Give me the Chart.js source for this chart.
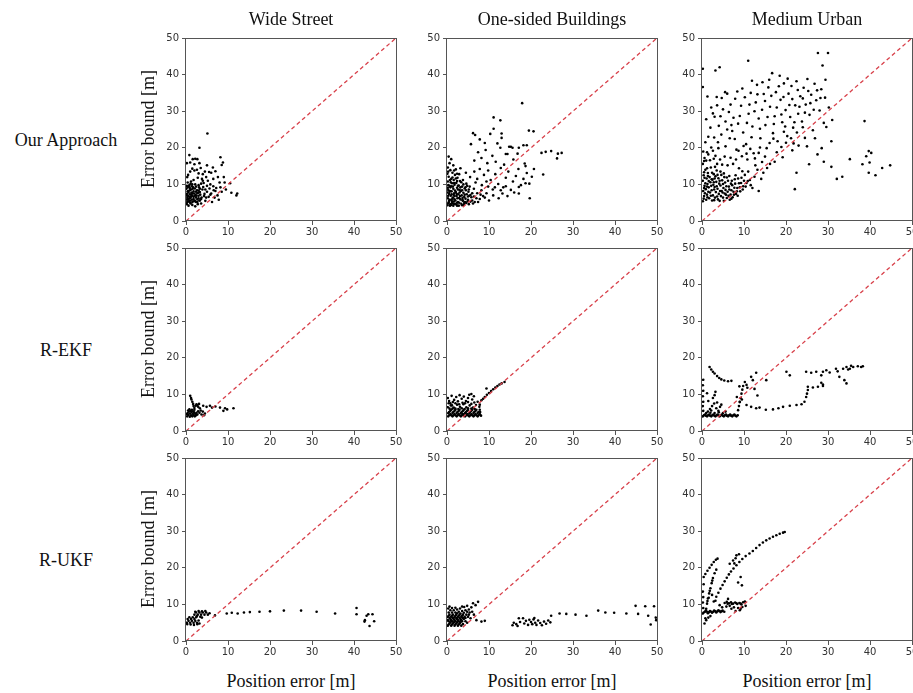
<!DOCTYPE html>
<html>
<head>
<meta charset="utf-8">
<script src="https://cdn.jsdelivr.net/npm/chart.js@4.4.1/dist/chart.umd.min.js"></script>
<style>
  html, body { margin: 0; padding: 0; background: #fff; overflow: hidden; }
  body { width: 913px; height: 693px; position: relative; }
  canvas { position: absolute; }
  .lbl { position: absolute; font-family: "Liberation Serif", "Times New Roman", serif; font-size: 18px; color: #111; white-space: nowrap; transform: translate(-50%, -50%); }
  .rot { transform: translate(-50%, -50%) rotate(-90deg); }
</style>
</head>
<body>
<script>
// column / row titles
const colTitles = ["Wide Street", "One-sided Buildings", "Medium Urban"];
const rowTitles = ["Our Approach", "R-EKF", "R-UKF"];
const xTitle = "Position error [m]";
const yTitle = "Error bound [m]";
const axisRange = [0, 50];
const tickStep = 10;

// [position error, error bound]
const wideOurs = [[0.2,15.8],[0.8,18],[1.6,16.9],[2.2,17],[2.7,16.9],[3.2,20],[5.1,23.9],[8.2,17.4],[8.8,16],[8.5,15.3],[0.5,12.6],[0.3,12],[1,13.5],[1.5,14.3],[2,13.8],[2.6,14],[3,13],[3.5,14.5],[4,12.8],[4.5,13.5],[5.5,13.4],[6,13.2],[7,13.6],[7.6,12],[6.5,11.5],[5.2,11],[4.8,12],[3.8,11.5],[2.8,11.8],[1.8,11.2],[1.2,10.8],[0.4,10.5],[0.8,9.8],[1.4,9.5],[2.2,10],[3,9.8],[3.6,10.2],[4.2,10.4],[5,9.6],[5.8,10],[6.5,9.5],[7.2,9],[8,10.5],[9,12],[10.5,10.3],[10.8,7.7],[12.2,7.5],[12,7],[8.5,8],[9.5,8.6],[7.5,7],[7.8,5.8],[6.8,6.4],[6,7.5],[5.4,6.6],[4.6,5.5],[5,8],[4.4,7.4],[3.9,8.6],[3.4,7.2],[3,6.2],[2.6,8.4],[2.4,5.2],[2,7.5],[1.8,6.6],[1.6,8.8],[1.4,5.8],[1.2,7.2],[1,6.2],[0.9,8.4],[0.7,5.4],[0.6,7.8],[0.5,6.8],[0.4,9.2],[0.3,5.8],[0.2,7.4],[0.1,8.8],[0.2,4.6],[0.6,4.2],[1.1,4.8],[1.5,4.4],[2.2,4],[2.8,4.6],[3.2,5.6],[3.6,4.8],[0.8,6.6],[1.3,7.8],[1.7,9.2],[2.1,8.9],[2.5,6.9],[2.9,7.7],[3.3,8.8],[3.7,6.4],[4.1,9.3],[1.9,5.4],[0.3,6.3],[0.7,9.5],[1.1,10.2],[1.5,6.9],[2.3,7.1],[2.7,5.9],[0.9,5.1],[0.4,8.1],[1.6,7.5],[3.1,9.2],[4.3,6.8],[5.6,8.9],[6.2,5.2],[7,8.2],[4,11],
  [0.3,5.2],[0.9,5.6],[1.5,5.2],[2.1,5.6],[2.7,5.2],[3.3,5.6],[0.6,6],[1.2,6.6],[1.8,6],[2.4,6.4],[3,6.9],[3.6,6],[0.3,6.9],[0.9,7.3],[1.5,7.6],[2.1,6.9],[2.7,7.6],[3.3,7.9],[0.6,8.2],[1.2,8.6],[1.8,8.1],[2.4,8],[3,8.3],[0.2,9.6],[0.9,9],[1.5,10],[2.4,9.4],[4.6,8.6],[4.8,6.4],[5.8,7.2],[6.6,8.4],[8.2,9.2],[9.2,10.5],[6.4,14.6],[5,15.2],[3.2,15.8],[2,15.5],[1,16]];

const oneSidedOurs = [[0.1,4.3],[0.4,5.1],[0.2,6.2],[0.5,7.4],[0.3,8.5],[0.6,9.6],[0.2,10.8],[0.4,12.1],[0.8,4.6],[1,5.8],[0.9,6.9],[1.1,8.1],[0.8,9.2],[1.2,10.3],[1,11.5],[1.3,13.2],[1.5,4.2],[1.6,5.3],[1.4,6.4],[1.7,7.6],[1.5,8.8],[1.8,9.9],[1.6,11.2],[1.9,12.6],[2.2,4.5],[2,5.6],[2.3,6.8],[2.1,7.9],[2.4,9.1],[2.2,10.4],[2.5,11.8],[2.8,4.2],[2.6,5.2],[2.9,6.3],[2.7,7.3],[3,8.5],[2.8,9.7],[3.1,10.9],[3.4,4.7],[3.2,5.9],[3.5,7],[3.3,8.2],[3.6,9.4],[3.4,10.6],[4,4.4],[3.8,5.5],[4.1,6.6],[3.9,7.7],[4.2,8.9],[4.6,4.9],[4.4,6.1],[4.7,7.3],[4.5,8.4],[4.8,9.6],[5.2,4.6],[5,5.8],[5.3,6.9],[5.1,8],[5.6,5.3],[5.8,6.5],[6.2,4.8],[6,7.6],[0.2,14.6],[0.6,15.8],[1,16.9],[0.4,17.6],[1.5,15.2],[2.1,14.1],[0.3,13.5],[0.7,4.2],[1.2,4.9],[1.9,4.7],[0.1,7.8],[0.7,8.2],[1.3,6.1],[0.5,5.5],[1.8,6.8],[2.4,5],[0.2,9.1],[0.9,10.6],[1.4,9.4],[2.6,8.6],[3.7,6.3],[4.3,5.2],[2.9,12.8],[3.8,11.2],[4.6,10.2],[5.4,9.4],[6.4,8.8],[7,6.2],[7.4,5.2],[6.8,10.5],[3.2,14.4],[4.5,13.2],
  [0.3,4.8],[0.6,5.8],[0.3,6.9],[0.6,8],[0.3,9.8],[0.7,11.2],[1,4.4],[1.2,5.4],[1.1,7.3],[1,9.5],[1.3,11.9],[1.6,4.6],[1.8,5.9],[1.6,7.1],[1.9,8.3],[1.7,10.4],[2.1,11.6],[2.4,4.2],[2.5,6.2],[2.3,7.4],[2.6,9.6],[2.4,10.9],[2.9,5],[3.1,6.8],[3,7.8],[3.2,9.2],[3.6,4.3],[3.7,5.7],[3.6,8.4],[3.9,10],[4.1,4.9],[4.2,7.2],[4.4,9.2],[4.9,5.4],[5,6.7],[5.2,8.6],[5.6,7.1],[6,5.6],[6.4,6.7],[6.6,5.2],[7.2,7.6],[7.8,6],[8.6,6.8],[8.2,8.4],[9.4,7.6],[9.8,9.4],[11.4,9.2],[12.8,8.4],[14,9.5],[0.1,12.9],[0.8,13.9],[1.7,13.8],[2.4,12.9],
  [5.5,12],[6.5,13.5],[7.2,11.5],[7.8,14.2],[8.3,9.8],[8.8,12.6],[9.4,10.8],[9.8,13.8],[10.4,11.2],[10.9,8.6],[11.5,12.8],[12.2,10.1],[12.8,14.5],[13.4,9.2],[14,11.8],[14.6,13.5],[15.2,8.5],[15.7,10.8],[16.4,12.3],[17,14.2],[17.6,9.8],[18.2,11.5],[19,13.1],[19.6,10.2],[8,7.2],[9,6.4],[10,5.6],[11,7],[12.3,6.2],[13.2,7.5],[14.4,6.8],[16,7.8],[6.5,16.5],[8.2,17.2],[9.6,15.8],[10.8,17.8],[11.6,16.2],[13.6,15.4],[15.8,16.8],[16.8,18.4],[7.4,18.8],[9.2,19.4],[12,21.2],[14.8,20.3],
  [17.9,32.2],[11.1,28.3],[12.7,27.5],[11.1,25.2],[19.5,24.7],[20.6,24.5],[6.2,24],[6.7,23.5],[7.8,22.3],[13,23.9],[13,22.7],[5.7,21],[9,21.3],[10.3,23.8],[12.7,20],[15.2,20.3],[15.6,20],[17.1,20],[18.2,20.7],[19,20.7],[14,18.3],[14.4,18.3],[22.5,18.6],[23.5,18.9],[24.8,19.1],[26.2,17.1],[26.4,18.4],[27.3,18.6],[22.9,12.7],[20.7,14.2],[20.2,12.1],[17.1,9.3],[17.1,7.5],[19.7,6.2],[18.7,10.3],[18.5,15.7],[18.7,15]];

const urbanOurs = [[0.2,5.4],[0.5,6.8],[0.3,8.2],[0.6,9.6],[0.2,11],[0.4,12.5],[0.8,14],[1,5.8],[1.2,7.2],[0.9,8.7],[1.3,10.1],[1.1,11.6],[1.4,13.1],[1.7,6.2],[1.9,7.8],[1.6,9.2],[2,10.6],[1.8,12],[2.1,14.6],[2.4,5.6],[2.6,7],[2.3,8.4],[2.7,9.9],[2.5,11.3],[2.8,12.8],[3.1,6.4],[3.3,7.9],[3,9.3],[3.4,10.7],[3.2,12.2],[3.5,13.8],[3.8,5.9],[4,7.4],[3.7,8.8],[4.1,10.2],[3.9,11.7],[4.5,6.8],[4.7,8.2],[4.4,9.7],[4.8,11.1],[4.6,12.6],[5.2,5.5],[5.4,7.5],[5.1,9],[5.5,10.5],[5.3,12],[5.9,6.3],[6.1,8],[5.8,9.5],[6.2,11],[6.6,5.8],[6.8,7.2],[6.5,8.6],[6.9,10.2],[7.3,6.5],[7.5,8],[7.2,9.8],[7.8,11.4],[8.1,7.4],[8.4,9],[8,12.5],[8.8,10.3],[9.1,8.1],[9.4,11.8],[9.8,9.5],[10.2,12.6],[10.6,10.4],[11,13.5],[11.4,11.2],[12,9],[12.5,12.1],[13.2,14],[13.5,8.2],[14.1,11.5],[14.6,13.2],[0.2,15.6],[0.6,17.2],[0.3,19],[1,16.5],[1.5,18.2],[2.2,20.1],[0.8,21.5],[2.8,17],[3.6,15.6],[4.3,16.8],[0.2,36.6],[0.2,41.6],[3.2,41.1],[4.2,42],[11,43.8],
  [0.4,6.1],[0.7,7.6],[0.5,9],[0.8,10.3],[0.6,11.8],[0.5,13.3],[1.3,6.5],[1.5,8],[1.2,9.4],[1.6,10.9],[1.4,12.3],[1.2,14.4],[2.1,6.9],[2.2,9.6],[2.3,11.4],[2.4,13.2],[2.9,5.7],[2.9,8.6],[2.8,10.6],[3,11.6],[3.1,14.8],[3.6,6.7],[3.5,9.5],[3.7,12.6],[4.2,5.5],[4.3,8.2],[4.2,11],[4.4,13.5],[5,6.4],[4.9,7.8],[5,10.1],[5.2,13],[5.7,7.2],[5.6,8.5],[5.9,11.9],[6.3,6.9],[6.4,9.4],[6.5,12.3],[7,6.1],[7,8.4],[7.1,11],[7.6,7.2],[7.7,9.1],[7.9,10.2],[8.3,8.1],[8.5,6.9],[8.6,11.6],[9,9.2],[9.3,10.4],[9.7,8.6],[10,11],[10.4,9.4],[10.9,10.9],[11.6,9.8],[0.5,16.4],[1.2,18.8],[1.9,16.6],[2.6,19.2],[3.2,17.8],[3.9,19.9],[4.8,15.4],[5.4,17.6],[6.1,15.2],[6.8,17.3],[7.4,15.6],[8.1,16.8],[8.8,14.4],[9.6,13.6],[2.9,22.8],[3.8,21.5],[4.6,23.6],[5.6,20.4],[6.6,22.6],[7.2,24.6],[8.7,19.2],[9.9,20.5],[10.6,18.4],[11.5,19.7],[12.6,17.1],[13.5,18.6],[14.3,16.1],[15,17.6],[16.2,15.6],[17.8,18.8],[18.9,20.2],[20,21.4],[21.2,22.6],[22.6,24.2],[24,25.6],
  [2,25.5],[1.5,23],[3,28.5],[4,26],[5,30.5],[6,25],[6.8,31.8],[6,34.8],[5.5,35.2],[4.7,33.6],[3.5,33.9],[2.2,31],[1.3,34],[7.5,28.2],[7.8,22.4],[8.2,19.5],[8.6,26.6],[9.3,31.5],[9.8,24.2],[10.2,33.8],[10.5,21],[11.1,29.3],[11.6,35],[12,25.8],[12.3,18.5],[12.8,32.4],[13.1,37.2],[13.5,28],[13.9,22.6],[14.3,30.4],[14.7,34.7],[15.1,26.2],[15.4,19.9],[15.8,36.5],[16.2,31.2],[16.7,40.4],[16.9,24],[17.3,28.6],[17.6,35.2],[18,21.8],[18.5,39.7],[18.7,33.1],[19.1,27],[19.5,37.6],[19.9,30.3],[20.3,23.2],[20.6,34.8],[21,28.4],[21.3,36.9],[21.7,25.5],[22.2,31.6],[22.5,38.2],[22.9,29.3],[23.4,34.1],[23.8,27.2],[24.2,36.4],[24.7,31.8],[25.1,38.8],[25.6,29],[26,34.5],[26.4,24.8],[26.8,37.5],[27.2,33],[27.6,45.9],[28,30.2],[28.4,36],[28.7,42.5],[29,26.8],[29.6,25.7],[30,45.9],[30.8,21.8],[29.3,33.7],[10.8,16.8],[12.7,15.2],[15.5,14.5],[17.3,16.2],[19.2,17.4],[21.5,19.3],[23,20.6],[24.5,22.7],[13.8,20.1],[16.1,21.3],[9.5,17.7],[11.8,22.9],
  [1,27.8],[2.6,29.4],[3.6,31.6],[4.4,28.6],[5.6,27.2],[6.4,29.8],[7,26.2],[7.9,33.4],[8.4,35.4],[9,28.7],[9.6,36.2],[10.7,26.8],[11.3,31.8],[11.9,38.3],[12.5,30],[13.2,34.6],[13.8,25.2],[14.4,37.9],[15,32.8],[15.6,28.4],[16,38.6],[16.5,34.2],[17.1,26.5],[17.8,31],[18.3,36.8],[18.9,29.1],[19.4,33.9],[19.8,25.8],[20.4,38.9],[20.8,31.7],[21.5,33.3],[22,27],[22.8,35.8],[23.2,31.2],[24,33.5],[24.5,29.6],[25.3,35.5],[25.8,32.2],[26.6,30.4],[27.4,35.7],[28.2,33.6],[29.4,38.6],[30.2,31],[31,27.6],[17,22.5],[19.5,24.4],[21.8,21.2],[25,20.4],[26.9,22.6],[28.5,19.9],
  [38.7,27.3],[39.7,19.1],[40.3,18.6],[39.9,16],[39.1,17.7],[38.2,15.5],[39.7,13.2],[41.3,12.5],[42.9,14.5],[44.8,15.2],[35.2,16.9],[33.4,12.1],[32.1,11.5],[30.8,14.8],[29,16.2],[22.1,8.7],[22.5,13.2],[25.5,15.5],[27.5,18.2]];

const wideEkf = [[0.3,4],[0.6,4.4],[0.9,3.9],[1.2,4.3],[1.5,4],[1.8,4.4],[2.1,4],[2.4,4.3],[0.4,4.9],[0.7,5.3],[1,4.8],[1.3,5.2],[1.6,4.7],[1.9,5.1],[2.2,4.7],[2.5,5],[0.5,5.6],[0.8,5.9],[1.1,5.5],[1.4,5.8],[1.7,5.4],[2,5.8],[0.2,4.6],[2.7,4.5],
  [1,9.6],[1.2,9],[1.3,8.6],[1.5,8],[1.7,7.4],[1.8,6.8],[2,6.3],[2.3,6.9],[2.5,7.3],[2.7,7],[2.9,6.6],[3.1,7.4],[3.3,6.2],[3.5,5.6],[3.2,5],[2.9,5.4],
  [4.1,6.9],[4.9,6.6],[5.7,6.9],[4.5,4.8],[4,5.3],[3.7,4.5],[4.3,4.3],[8.1,6.4],[8.9,5.5],[9.3,6.2],[9.8,5.9],[11.3,6.2],[6.2,6.4],[7,6.7]];

const oneSidedEkf = [[0.3,4],[0.8,4.6],[1.3,4],[1.8,4.6],[2.3,4],[2.8,4.6],[3.3,4],[3.8,4.6],[4.3,4],[4.8,4.6],[5.3,4],[5.8,4.6],[6.3,4],[6.8,4.6],[7.3,4],[7.8,4.6],
  [0.5,5.2],[1,5.8],[1.5,5.2],[2,5.8],[2.5,5.2],[3,5.8],[3.5,5.2],[4,5.8],[4.5,5.2],[5,5.8],[5.5,5.2],[6,5.8],[6.5,5.2],[7,5.8],[7.5,5.2],
  [0.5,4.3],[1,4.3],[1.5,4.3],[2,4.3],[2.5,4.3],[3,4.3],[3.5,4.3],[4,4.3],[4.5,4.3],[5,4.3],[5.5,4.3],[6,4.3],[6.5,4.3],[7,4.3],[7.5,4.3],[0.3,4.9],[0.8,5.5],[1.3,4.9],[1.8,5.5],[2.3,4.9],[2.8,5.5],[3.3,4.9],[3.8,5.5],[4.3,4.9],[4.8,5.5],[5.3,4.9],[5.8,5.5],[6.3,4.9],[6.8,5.5],[7.3,4.9],[7.8,5.8],[0.6,6.1],[1.3,6.1],[2,6.1],[2.7,6],[3.5,6.2],[4.2,6],[5,6.2],[5.8,6.1],[6.6,6],[0.4,7.6],[1.2,7],[2,7.6],[2.9,7.3],[4.3,7.6],[5,7.9],[5.8,7.4],[6.5,7.8],[7.3,8],
  [0.2,6.5],[0.9,7],[1.6,6.4],[2.4,7.2],[3.1,6.6],[3.9,7.3],[4.6,6.5],[5.4,7],[6.2,6.4],[6.9,7.1],[7.7,6.6],
  [0.2,9],[0.5,8.2],[0.8,7.6],[1.1,9.6],[1.7,8.5],[2.2,9.3],[2.6,8.1],[3,9.8],[3.5,8.8],[4,9.4],[4.5,8.2],[5,9],[5.3,9.9],[5.8,10.1],[6,8.6],[6.4,9.5],[1.4,7.9],[3.7,7.7],
  [7.8,7.2],[8.2,8.4],[8.6,8.8],[9,9.3],[9.5,9.9],[10,10.4],[10.5,10.9],[11,11.4],[11.5,11.9],[12,12.3],[12.5,12.7],[13,13],[13.7,13.4],[9.4,11.6],[7.9,5.2],[8.1,4.2]];

const urbanEkf = [[0.2,4],[0.7,4.5],[1.2,4],[1.7,4.5],[2.2,4],[2.7,4.5],[3.2,4],[3.7,4.5],[4.2,4],[4.7,4.5],[5.2,4],[5.7,4.5],[6.2,4],[6.7,4.5],[7.2,4],[7.7,4.5],[8.2,4],[8.5,4.3],
  [0.45,4.3],[0.95,4.2],[1.45,4.3],[1.95,4.2],[2.45,4.3],[2.95,4.2],[3.45,4.3],[3.95,4.2],[4.45,4.3],[4.95,4.2],[5.45,4.3],[5.95,4.2],[6.45,4.3],[6.95,4.2],[7.45,4.3],[7.95,4.2],[1,4.9],[2,5],[3,4.9],[4,5.1],[5,4.9],[5.6,5.3],
  [0.3,5.5],[0.2,6.8],[0.3,8],[0.2,9.5],[0.3,11],[0.2,12.5],[0.3,14],
  [1.8,17.5],[2.2,16.8],[2.6,16.2],[3,15.7],[3.6,15],[4.1,14.5],[4.6,14.1],[5.3,13.8],[6.2,13.6],[7,13.7],
  [3.2,10.7],[3,9.8],[1.4,5.3],[1.9,6],[2.4,6.8],[2.9,7.5],[3.4,6.2],[3.9,5.5],[4.3,6.6],[4.6,7.2],[2.2,5.6],[3.6,7.8],[2.6,9],[1.5,8.2],[1.2,10.3],
  [8.6,5.7],[8.8,6.8],[9,7.9],[9.2,9],[9.4,10.2],[9.6,11.3],[9.8,12.3],[10.2,13.4],[10.6,12.6],[10.8,11.8],[9.5,8.6],[8.3,9.3],[8.9,12.2],
  [11.7,14.8],[12.9,15.9],[15.3,13.9],[12.1,13.9],[12.5,11.5],[13.2,9.7],
  [9,8],[10.6,7.1],[11.7,6.6],[12.9,6.2],[13.7,6.4],[15.2,5.8],[16.9,5.9],[18.2,6.2],[19.3,6.6],[20.9,6.9],[22.5,7.1],[23.7,7.3],[24.4,8],[24.8,9.3],[25,10.2],[25.2,11.2],[25.2,12.1],
  [26.4,11.9],[27.6,12.1],[28.8,12.3],[20.1,16.2],[20.9,15.2],
  [24.8,16.2],[26,15.9],[27.2,16.2],[28.4,15.2],[28.8,16.2],[29.6,16.6],[30.4,16],[31.9,17],[32.3,16.3],
  [33.6,17],[34.4,17.5],[35.2,17],[36,17.5],[37.1,17.7],[37.9,17.5],[38.3,17.7],[34.8,16.8],[35.5,17.8],
  [32.7,14.8],[33.9,13.9],[34.4,13],[28.4,13.2],[28.8,12.7]];

const wideUkf = [[0.2,5],[0.6,5.5],[1,5],[1.4,5.5],[1.8,5],[2.2,5.5],[2.6,5],[0.4,6],[0.8,6.5],[1.2,6],[1.6,6.5],[2,6],[2.4,6.5],[0.3,4.6],[1.1,4.5],[1.9,4.4],[2.7,4.6],[3,5.6],[3.2,4.8],
  [2,7.2],[2.4,7.8],[2.8,7.2],[3.2,7.8],[3.6,7.2],[4,7.8],[4.4,7.2],[4.8,7.8],[5.2,7.2],[5.6,7.6],[2.2,8],[3,8.2],[3.8,8.1],[4.6,8.2],[3.4,6.6],[2.6,6.8],[3.8,6.4],
  [6.9,7],[9.7,7.5],[10.9,7.7],[12.3,7.5],[13.8,7.8],[15.2,7.9],[17.5,8],[20,8.1],[23.3,8.3],[27.4,8.3],[31.1,8],[35.5,7.5],[40.6,9],[40.6,7.3],[43,6.9],[43.4,7.3],[42.6,5.7],[42.5,5.3],[43.7,4.1],[44.4,7.3],[44.8,5.4]];

const oneSidedUkf = [[0.2,4.2],[0.6,4.8],[1,4.2],[1.4,4.8],[1.8,4.2],[2.2,4.8],[2.6,4.2],[3,4.8],[3.4,4.2],[0.4,5.4],[0.8,6],[1.2,5.4],[1.6,6],[2,5.4],[2.4,6],[2.8,5.4],[3.2,6],[3.6,5.4],[4,6],[4.4,5.4],[0.2,6.6],[0.6,7.2],[1,6.6],[1.4,7.2],[1.8,6.6],[2.2,7.2],[2.6,6.6],[3,7.2],[3.4,6.6],[3.8,7.2],[4.2,6.6],[4.6,7.2],[5,6.6],[0.4,7.8],[0.8,8.4],[1.2,7.8],[1.6,8.4],[2,7.8],[2.8,8],[3.6,8.2],[4.4,8.4],[5.2,8.6],[5.8,9.2],[3.1,8.9],[4.1,9.3],[4.8,9.6],[0.3,8.9],[1.2,9],[6.2,10.3],[7.4,10.7],[6.8,9.8],[5.4,7.8],[6,8],[6.4,7.2],[7,5.7],[8.2,5.3],[9,5.5],[3.8,4.6],[4.8,5],
  [0.4,4.5],[0.8,5.1],[1.2,4.5],[1.6,5.1],[2,4.5],[2.4,5.1],[2.8,4.5],[3.2,5.1],[0.2,5.7],[0.6,6.3],[1,5.7],[1.4,6.3],[1.8,5.7],[2.2,6.3],[2.6,5.7],[3,6.3],[3.4,5.7],[3.8,6.3],[0.4,6.9],[1.2,6.9],[2,6.9],[2.8,6.9],[3.6,6.9],[4.4,6.3],[5.2,7.2],[5.6,6.2],[2.4,7.6],[3.2,7.5],[4,7.7],[4.8,8],[2.4,8.6],[0.6,9.4],[2,9.1],[3.6,9.4],
  [15.6,4.3],[15.9,5],[16.5,4.6],[17.1,6.2],[17.4,5.2],[18.1,6.2],[18.4,4.8],[18.8,5.5],[19.3,4.4],[19.6,5.8],[20,5.2],[20.3,4.6],[20.6,5.9],[21,5],[21.3,4.4],[21.7,5.6],[22.2,4.9],[22.6,4.3],[23.1,5.3],[23.6,4.7],[24.1,5.6],[24.6,5.1],[24.8,6.9],[16.8,4.1],[20.8,6.3],
  [26.8,7.5],[28.4,7.4],[30.6,7.2],[33.2,6.9],[36,8.3],[37.7,7.8],[39.8,7.7],[42.7,7.5],[44.9,9.6],[45.5,7.4],[47.2,9.5],[47.9,6.9],[49.3,9.5],[48.5,4.5],[49.7,6.4],[49.8,5.7]];

const urbanUkf = [[2.8,10.8],[3.4,12.1],[3.9,13.2],[4.4,14.3],[4.9,15.3],[5.4,16.3],[5.9,17.3],[6.4,18.2],[6.9,19],[7.5,19.8],[8.2,20.7],[8.9,21.6],[9.6,22.4],[10.4,23.2],[11.3,23.9],[12.1,24.6],[12.9,25.4],[13.7,26.2],[14.5,26.9],[15.3,27.5],[16.1,28],[16.9,28.5],[17.7,28.9],[18.5,29.3],[19.3,29.6],[19.7,29.8],
  [0.4,17.5],[0.8,18.3],[1.3,19.2],[1.8,20],[2.3,20.8],[2.8,21.6],[3.3,22.2],[3.7,22.5],
  [1,8.8],[1.2,10.2],[1.4,11.6],[1.7,13],[2,14.4],[2.3,15.8],[2.6,17.2],[3,18.5],[3.4,19.5],[1.3,10.9],[1.85,13.7],[2.45,16.5],
  [0.2,7.5],[0.3,9],[0.2,10.5],[0.3,12],[0.2,13.5],[0.4,15.5],
  [6.6,21.1],[7.4,22],[8.2,23.4],[8.8,23.7],[8,22.6],[7.7,21.2],[9.2,17.5],[8.6,16],[9.5,15.2],
  [0.4,7.8],[0.9,8.3],[1.4,7.6],[1.9,8.2],[2.4,7.7],[2.9,8.3],[3.4,7.8],[3.9,8.4],[4.4,7.9],[4.9,8.3],[5.3,8],[0.7,8],[1.2,8],[1.7,7.9],[2.2,8],[2.7,8],[3.2,8.1],[3.7,8.1],[4.2,8.2],[4.7,8.1],
  [5.4,10.4],[5.9,10.7],[6.4,10.3],[6.9,10.6],[7.4,10.2],[7.9,10.5],[8.4,10.1],[8.9,10.4],[9.4,10],[9.8,10.6],[5.8,9.4],[6.6,9.6],[7.6,9.2],[8.6,9],[9.2,8.8],[9,8.4],[9.6,9.3],[7,8.8],[8,8.2],[10.2,10.8],[6.2,11.5],[6.1,10.2],[7.1,10.1],[8.2,10.3],[9.2,10.2],
  [0.6,4.8],[1,5.7],[1.5,6.4],[2,6.8],[0.8,6.2],
  [1.6,11.8],[2.4,12.6],[3.2,11],[4.2,9.8],[4.8,9.2],[10.4,9.6]];

const panels = [
  [wideOurs, oneSidedOurs, urbanOurs],
  [wideEkf, oneSidedEkf, urbanEkf],
  [wideUkf, oneSidedUkf, urbanUkf]
];

// layout of the 3x3 grid (plot area corners in page pixels)
const plotLefts = [186, 447, 702];
const plotTops = [37, 247, 457];
const plotW = 210, plotH = 184;
const padL = 30, padT = 8, padR = 8, padB = 22;

const frame = {
  id: "frame",
  afterDraw(chart) {
    const a = chart.chartArea;
    const ctx = chart.ctx;
    ctx.save();
    ctx.strokeStyle = "#555";
    ctx.lineWidth = 1;
    ctx.strokeRect(Math.round(a.left) - 0.5, Math.round(a.top) + 0.5, Math.round(a.right - a.left) + 1, Math.round(a.bottom - a.top) - 1);
    ctx.restore();
  }
};

function addLabel(text, x, y, rotate) {
  const d = document.createElement("div");
  d.className = rotate ? "lbl rot" : "lbl";
  d.style.left = x + "px";
  d.style.top = y + "px";
  d.innerText = text;
  document.body.appendChild(d);
}

function axis(fitKey, fitSize) {
  return {
    type: "linear",
    min: axisRange[0],
    max: axisRange[1],
    afterFit(scale) { scale[fitKey] = fitSize; },
    ticks: { stepSize: tickStep, color: "#333", padding: fitKey === "width" ? 3 : 1, font: { family: "DejaVu Sans", size: 10 } },
    grid: { drawOnChartArea: false, drawTicks: true, tickLength: 4, color: "#555" },
    border: { display: false }
  };
}

function makePanel(points, row, col) {
  const cv = document.createElement("canvas");
  cv.width = padL + plotW + padR;
  cv.height = padT + plotH + padB;
  cv.style.left = (plotLefts[col] - padL) + "px";
  cv.style.top = (plotTops[row] - padT) + "px";
  document.body.appendChild(cv);

  new Chart(cv, {
    type: "scatter",
    data: {
      datasets: [
        { data: points.map(p => ({ x: p[0], y: p[1] })), backgroundColor: "#000", borderWidth: 0, pointRadius: 1.3, pointHoverRadius: 1.3, order: 1 },
        { type: "line", data: axisRange.map(v => ({ x: v, y: v })), borderColor: "#d8404a", borderWidth: 1.3, borderDash: [4, 3], pointRadius: 0, fill: false, order: 0 }
      ]
    },
    options: {
      responsive: false,
      animation: false,
      devicePixelRatio: 1,
      layout: { padding: { top: padT, right: padR, left: 0, bottom: 0 } },
      scales: { x: axis("height", padB), y: axis("width", padL) },
      plugins: { legend: { display: false }, tooltip: { enabled: false } }
    },
    plugins: [frame]
  });
}

panels.forEach((rowData, r) => rowData.forEach((pts, c) => makePanel(pts, r, c)));

colTitles.forEach((t, c) => addLabel(t, plotLefts[c] + plotW / 2, 19));
rowTitles.forEach((t, r) => addLabel(t, 66, plotTops[r] + plotH / 2 + 11));
plotTops.forEach(top => addLabel(yTitle, 148, top + plotH / 2, true));
plotLefts.forEach(left => addLabel(xTitle, left + plotW / 2, 681));
</script>
</body>
</html>
